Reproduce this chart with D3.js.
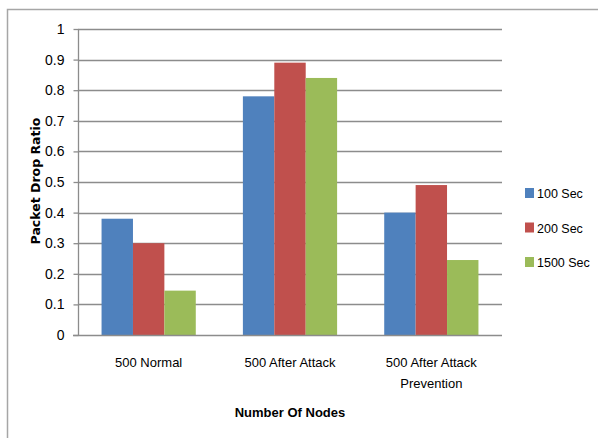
<!DOCTYPE html>
<html>
<head>
<meta charset="utf-8">
<script src="https://cdn.jsdelivr.net/npm/d3@7/dist/d3.min.js"></script>
<style>
  html, body { margin: 0; padding: 0; background: #fff; }
  svg { display: block; font-family: "Liberation Sans", Arial, sans-serif; }
</style>
</head>
<body>
<svg id="chart" width="598" height="438"></svg>
<script>
// Packet drop ratio per scenario, grouped by simulation time
const categories = ["500 Normal", "500 After Attack", "500 After Attack\nPrevention"];
const seriesNames = ["100 Sec", "200 Sec", "1500 Sec"];
const seriesColors = ["#4F81BD", "#C0504D", "#9BBB59"];
const values100 = [0.38, 0.78, 0.40];
const values200 = [0.30, 0.89, 0.49];
const values1500 = [0.145, 0.84, 0.245];
const yTicks = [0, 0.1, 0.2, 0.3, 0.4, 0.5, 0.6, 0.7, 0.8, 0.9, 1];
const yTickLabels = ["0", "0.1", "0.2", "0.3", "0.4", "0.5", "0.6", "0.7", "0.8", "0.9", "1"];

const seriesValues = [values100, values200, values1500];

const svg = d3.select("#chart");
const plot = { left: 78, right: 502, top: 29, bottom: 335 };

// chart frame
svg.append("rect")
  .attr("x", 7.5).attr("y", 9.5)
  .attr("width", 620).attr("height", 460)
  .attr("fill", "none").attr("stroke", "#a6a6a6").attr("stroke-width", 1.5);

const x0 = d3.scaleBand()
  .domain(categories)
  .range([plot.left, plot.right])
  .paddingInner(0).paddingOuter(0);

// three bars per group, with a gap of 1.5 bar widths between groups
const x1 = d3.scaleBand()
  .domain(seriesNames)
  .range([0, x0.bandwidth()])
  .paddingInner(0)
  .paddingOuter(0.75);

const y = d3.scaleLinear().domain([0, 1]).range([plot.bottom, plot.top]);

// horizontal gridlines
svg.append("g")
  .selectAll("line")
  .data(yTicks.filter(d => d > 0))
  .join("line")
  .attr("x1", plot.left).attr("x2", plot.right)
  .attr("y1", d => Math.round(y(d)) + 0.5).attr("y2", d => Math.round(y(d)) + 0.5)
  .attr("stroke", "#8c8c8c").attr("stroke-width", 1.3);

// bars
const groups = svg.append("g")
  .selectAll("g")
  .data(categories)
  .join("g")
  .attr("transform", d => `translate(${x0(d)},0)`);

groups.selectAll("rect")
  .data((c, ci) => seriesNames.map((s, si) => ({ s, si, v: seriesValues[si][ci] })))
  .join("rect")
  .attr("x", d => x1(d.s))
  .attr("width", x1.bandwidth())
  .attr("y", d => y(d.v))
  .attr("height", d => y(0) - y(d.v))
  .attr("fill", d => seriesColors[d.si]);

// y axis
const yAxis = d3.axisLeft(y)
  .tickValues(yTicks)
  .tickFormat((d, i) => yTickLabels[i])
  .tickSize(5)
  .tickPadding(9);

const yg = svg.append("g")
  .attr("transform", `translate(${plot.left + 0.5},0)`)
  .call(yAxis);
yg.select(".domain").attr("stroke", "#8c8c8c").attr("stroke-width", 1.3)
  .attr("d", `M0,${plot.top}V${plot.bottom}`);
yg.selectAll(".tick line").attr("stroke", "#8c8c8c").attr("stroke-width", 1.3);
yg.selectAll(".tick text")
  .attr("font-size", 14).attr("fill", "#000")
  .attr("font-family", "'Liberation Sans', Arial, sans-serif");

// x axis baseline
svg.append("line")
  .attr("x1", plot.left - 5).attr("x2", plot.right)
  .attr("y1", plot.bottom + 0.5).attr("y2", plot.bottom + 0.5)
  .attr("stroke", "#8c8c8c").attr("stroke-width", 1.3);

// category labels (may wrap onto two lines)
const catLabels = svg.append("g")
  .selectAll("text")
  .data(categories)
  .join("text")
  .attr("x", d => x0(d) + x0.bandwidth() / 2)
  .attr("y", 367)
  .attr("text-anchor", "middle")
  .attr("font-size", 13)
  .attr("fill", "#000");
catLabels.each(function(d) {
  const lines = d.split("\n");
  const t = d3.select(this);
  lines.forEach((ln, i) => {
    t.append("tspan")
      .attr("x", x0(d) + x0.bandwidth() / 2)
      .attr("dy", i === 0 ? 0 : 21)
      .text(ln);
  });
});

// axis titles
svg.append("text")
  .attr("x", 290).attr("y", 417)
  .attr("text-anchor", "middle")
  .attr("font-size", 13).attr("font-weight", "bold")
  .text("Number Of Nodes");

svg.append("text")
  .attr("transform", "translate(40,181) rotate(-90)")
  .attr("text-anchor", "middle")
  .attr("font-family", "'DejaVu Sans', Verdana, sans-serif")
  .attr("font-size", 12.5).attr("font-weight", "bold")
  .text("Packet Drop Ratio");

// legend
const legendY = [193, 227.5, 262];
const legend = svg.append("g")
  .selectAll("g")
  .data(seriesNames)
  .join("g")
  .attr("transform", (d, i) => `translate(525,${legendY[i]})`);
legend.append("rect")
  .attr("x", 0).attr("y", -5)
  .attr("width", 9).attr("height", 10)
  .attr("fill", (d, i) => seriesColors[i]);
legend.append("text")
  .attr("x", 12).attr("y", 5)
  .attr("font-size", 12.5).attr("fill", "#000")
  .text(d => d);
</script>
</body>
</html>
